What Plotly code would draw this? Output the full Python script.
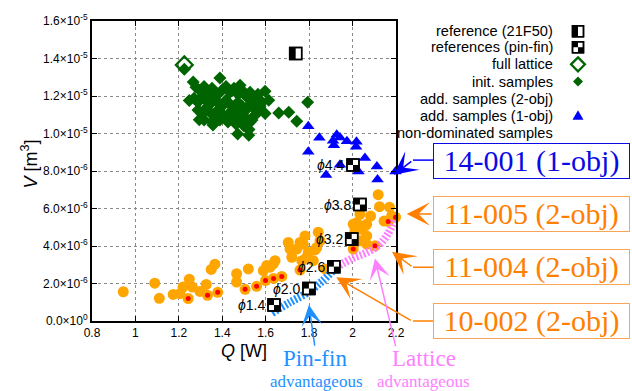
import numpy as np
import plotly.graph_objects as go

# ---------------- data (Q in W, V in 1e-6 m^3) ----------------
q_init = [1.225, 1.266, 1.389, 1.248, 1.294, 1.357, 1.471, 1.522, 1.523, 1.482,
          1.597, 1.614, 1.597, 1.660, 1.706, 1.743, 1.793,
          1.279, 1.297, 1.316, 1.334, 1.353, 1.371, 1.399, 1.417, 1.436, 1.454,
          1.472, 1.491, 1.509, 1.528, 1.546, 1.564, 1.583,
          1.270, 1.288, 1.307, 1.325, 1.343, 1.362, 1.380, 1.399, 1.417, 1.436,
          1.454, 1.472, 1.491, 1.509, 1.528, 1.546, 1.564, 1.574,
          1.288, 1.307, 1.325, 1.343, 1.362, 1.380, 1.399, 1.417, 1.436, 1.454,
          1.472, 1.491, 1.509, 1.528, 1.546,
          1.316, 1.353, 1.389, 1.426, 1.463, 1.500, 1.537, 1.482, 1.555, 1.380]
v_init = [13.43, 12.75, 12.96, 11.76, 10.74, 10.45, 9.98, 9.91, 10.22, 12.57,
          12.26, 11.77, 11.07, 11.10, 11.14, 10.65, 11.67,
          12.46, 12.30, 12.51, 12.20, 12.41, 12.09, 12.30, 12.51, 12.20, 12.41,
          12.09, 12.30, 11.99, 12.20, 11.88, 12.09, 11.67,
          11.88, 11.67, 11.99, 11.77, 11.56, 11.88, 11.67, 11.46, 11.77, 11.56,
          11.35, 11.67, 11.46, 11.25, 11.56, 11.35, 11.14, 11.46,
          11.25, 11.04, 11.35, 11.14, 10.93, 11.25, 11.04, 10.82, 11.14, 10.93,
          10.72, 11.04, 10.82, 10.61, 10.93,
          10.72, 10.61, 10.72, 10.61, 10.51, 10.40, 10.72, 11.25, 11.67, 12.09]

q_add2 = [0.944, 1.089, 1.110, 1.174, 1.205, 1.219, 1.248, 1.243, 1.262, 1.297,
          1.326, 1.332, 1.349, 1.366, 1.379, 1.466, 1.466, 1.505, 1.520, 1.558,
          1.589, 1.605, 1.635, 1.599, 1.636, 1.674, 1.643, 1.620, 1.704, 1.758,
          1.781, 1.743, 1.720, 1.766, 1.796, 1.835, 1.842, 1.850, 1.819, 1.873,
          1.758, 1.789, 1.712, 1.773, 1.827, 2.019, 2.042, 2.065, 2.034, 2.003,
          2.065, 2.103, 2.034, 2.083, 2.118, 2.124, 2.170, 2.145, 2.180, 2.164,
          2.198, 2.003, 2.057, 2.011, 2.065, 1.910]
v_add2 = [1.56, 2.02, 1.21, 1.42, 1.46, 1.81, 2.23, 1.20, 1.81, 1.58,
          1.95, 1.37, 2.75, 3.03, 1.53, 2.52, 2.08, 1.69, 2.78, 1.85,
          2.69, 2.96, 3.05, 2.16, 2.27, 2.38, 3.22, 2.87, 4.19, 4.19,
          4.54, 3.84, 3.40, 3.22, 3.66, 3.92, 4.74, 4.28, 3.22, 2.78,
          2.72, 3.40, 3.84, 4.10, 3.79, 5.24, 4.89, 5.16, 4.28, 3.84,
          4.10, 4.01, 5.69, 5.60, 6.74, 6.10, 6.07, 5.33, 5.60, 5.31,
          5.54, 5.16, 5.07, 4.80, 4.54, 2.90]

q_add1 = [1.796, 1.847, 1.927, 1.942, 1.910, 1.914, 1.974, 2.018, 2.016, 1.796,
          2.057, 2.112, 2.027, 2.115, 1.878, 1.942, 2.198]
v_add1 = [10.39, 9.77, 9.94, 9.79, 9.61, 9.37, 9.59, 9.56, 9.29, 9.03,
          8.69, 8.24, 7.97, 7.55, 7.79, 8.34, 7.97]

q_nondom = [1.243, 1.332, 1.379, 1.505, 1.558, 1.599, 1.636, 1.674, 1.758,
            2.003, 2.103, 2.164, 2.198]
v_nondom = [1.20, 1.37, 1.53, 1.69, 1.85, 2.16, 2.27, 2.38, 2.72,
            3.84, 4.01, 5.31, 5.54]

q_full_lattice = [1.225]
v_full_lattice = [13.66]

q_ref21 = [1.738]
v_ref21 = [14.27]

pin_labels = ["1.4", "2.0", "2.6", "3.2", "3.8", "4.4"]
q_pin = [1.638, 1.799, 1.914, 1.996, 2.034, 2.002]
v_pin = [0.85, 1.73, 2.90, 4.37, 6.21, 8.32]

# advantageous-region bands
q_band_pin = [1.629, 1.712, 1.795, 1.859, 1.910]
v_band_pin = [0.42, 1.00, 1.53, 2.11, 2.69]
q_band_lat = [1.924, 1.997, 2.062, 2.117, 2.163, 2.195]
v_band_lat = [2.85, 3.33, 3.64, 4.01, 4.65, 5.44]

x_ticks = [0.8, 1.0, 1.2, 1.4, 1.6, 1.8, 2.0, 2.2]
x_tick_text = ["0.8", "1", "1.2", "1.4", "1.6", "1.8", "2", "2.2"]
y_ticks = [0, 2e-6, 4e-6, 6e-6, 8e-6, 1.0e-5, 1.2e-5, 1.4e-5, 1.6e-5]
y_tick_text = ["0.0×10<sup>0</sup>", "2.0×10<sup>-6</sup>", "4.0×10<sup>-6</sup>",
               "6.0×10<sup>-6</sup>", "8.0×10<sup>-6</sup>", "1.0×10<sup>-5</sup>",
               "1.2×10<sup>-5</sup>", "1.4×10<sup>-5</sup>", "1.6×10<sup>-5</sup>"]

legend_labels = ["reference (21F50)", "references (pin-fin)", "full lattice",
                 "init. samples", "add. samples (2-obj)", "add. samples (1-obj)",
                 "non-dominated samples"]

E6 = 1e-6
GREEN = "#006400"
ORANGE = "#FFA500"
BLUE = "#0000FF"
RED = "#FF0000"
PIN_C = "#1E90FF"
LAT_C = "#FF80FF"
ANN_OR = "#FF7F00"
SANS = "Liberation Sans, Arial, sans-serif"
SERIF = "Liberation Serif, Times New Roman, serif"

# plot-area geometry (pixels)
W, H = 632, 391
L, R, T, B = 92, 396, 18, 321


def px(x):
    return (x - L) / (R - L)


def py(y):
    return (B - y) / (B - T)


def vv(a):
    return [v * E6 for v in a]


fig = go.Figure()

fig.add_trace(go.Scatter(x=q_init, y=vv(v_init), mode="markers", cliponaxis=False,
                         marker=dict(symbol="diamond", size=10, color=GREEN)))
fig.add_trace(go.Scatter(x=q_full_lattice, y=vv(v_full_lattice), mode="markers",
                         cliponaxis=False,
                         marker=dict(symbol="diamond-open", size=13, color=GREEN,
                                     line=dict(width=2.2, color=GREEN))))
fig.add_trace(go.Scatter(x=q_add1, y=vv(v_add1), mode="markers", cliponaxis=False,
                         marker=dict(symbol="triangle-up", size=11, color=BLUE)))
fig.add_trace(go.Scatter(x=q_add2, y=vv(v_add2), mode="markers", cliponaxis=False,
                         marker=dict(symbol="circle", size=11, color=ORANGE)))
fig.add_trace(go.Scatter(x=q_band_pin, y=vv(v_band_pin), mode="lines",
                         line=dict(color=PIN_C, width=8, dash="2px,1.8px", shape="spline")))
fig.add_trace(go.Scatter(x=q_band_lat, y=vv(v_band_lat), mode="lines",
                         line=dict(color=LAT_C, width=8, dash="2px,1.8px", shape="spline")))
fig.add_trace(go.Scatter(x=q_nondom, y=vv(v_nondom), mode="markers", cliponaxis=False,
                         marker=dict(symbol="circle", size=5, color=RED)))

shapes = []
annotations = []


def sq(xa, ya, xref, yref, x0, x1, y0, y1, fill, lw=0, lc="black"):
    shapes.append(dict(type="rect", xref=xref, yref=yref, xsizemode="pixel",
                       ysizemode="pixel", xanchor=xa, yanchor=ya,
                       x0=x0, x1=x1, y0=y0, y1=y1, fillcolor=fill,
                       line=dict(width=lw, color=lc), layer="above"))


def checker(xa, ya, xref, yref, s=6):
    sq(xa, ya, xref, yref, -s, s, -s, s, "white", 1.5)
    sq(xa, ya, xref, yref, -s, 0, 0, s, "black")
    sq(xa, ya, xref, yref, 0, s, -s, 0, "black")
    sq(xa, ya, xref, yref, -s, s, -s, s, "rgba(0,0,0,0)", 1.5)


def half(xa, ya, xref, yref, s=6):
    sq(xa, ya, xref, yref, -s, s, -s, s, "white", 1.5)
    sq(xa, ya, xref, yref, -s, 0, -s, s, "black")
    sq(xa, ya, xref, yref, -s, s, -s, s, "rgba(0,0,0,0)", 1.5)


def text_at(xp, yp, text, size, color, family=SANS, **kw):
    d = dict(x=px(xp), y=py(yp), xref="paper", yref="paper", text=text,
             showarrow=False, xanchor="center", yanchor="middle",
             font=dict(family=family, size=size, color=color))
    d.update(kw)
    annotations.append(d)


# reference designs on the data axes
half(q_ref21[0], v_ref21[0] * E6, "x", "y")
for lab, q, v in zip(pin_labels, q_pin, v_pin):
    checker(q, v * E6, "x", "y")
    annotations.append(dict(x=q, y=v * E6, xref="x", yref="y", text="<i>ϕ</i>" + lab,
                            showarrow=False, xanchor="right", yanchor="middle",
                            xshift=-7, font=dict(family=SANS, size=14, color="black")))

# legend (text on the left, key on the right)
leg_x_key = px(578)
leg_rows = [28.3, 44.5, 61.8, 79.2, 96.6, 113.6, 130.7]
for lab, ry in zip(legend_labels, leg_rows):
    text_at(555, ry, lab, 14.6, "black", xanchor="right")
half(leg_x_key, py(leg_rows[0]), "paper", "paper", s=5.5)
checker(leg_x_key, py(leg_rows[1]), "paper", "paper", s=5.5)


def path_key(ry, path, fill, lw=0, lc=None):
    shapes.append(dict(type="path", xref="paper", yref="paper", xsizemode="pixel",
                       ysizemode="pixel", xanchor=leg_x_key, yanchor=py(ry),
                       path=path, fillcolor=fill,
                       line=dict(width=lw, color=lc or fill), layer="above"))


path_key(leg_rows[2], "M0,7 L7,0 L0,-7 L-7,0 Z", "white", 2.2, GREEN)
path_key(leg_rows[3], "M0,5 L5,0 L0,-5 L-5,0 Z", GREEN)
path_key(leg_rows[4], "M-5.5,0 A5.5,5.5 0 1 1 5.5,0 A5.5,5.5 0 1 1 -5.5,0 Z", ORANGE)
path_key(leg_rows[5], "M0,5.5 L5.5,-4 L-5.5,-4 Z", BLUE)
path_key(leg_rows[6], "M-2.5,0 A2.5,2.5 0 1 1 2.5,0 A2.5,2.5 0 1 1 -2.5,0 Z", RED)

# labelled boxes on the right
box_common = dict(bgcolor="white", borderwidth=1, borderpad=1, width=193, height=32)
text_at(531.5, 159.2, "14-001 (1-obj)", 30, "#0A0AE6", family=SERIF,
        bordercolor="#0A0AE6", **box_common)
for txt, cy in [("11-005 (2-obj)", 213.3), ("11-004 (2-obj)", 266.5),
                ("10-002 (2-obj)", 321.0)]:
    text_at(531.5, cy, txt, 30, ANN_OR, family=SERIF, bordercolor="#F8A55A", **box_common)


def elbow(y_box, x_elbow, color):
    shapes.append(dict(type="line", xref="paper", yref="paper",
                       x0=px(433), x1=px(x_elbow), y0=py(y_box), y1=py(y_box),
                       line=dict(color=color, width=1.5), layer="above"))


def arrow(xt, yt, xref, yref, ax, ay, color, size=2.6):
    annotations.append(dict(x=xt, y=yt, xref=xref, yref=yref, ax=ax, ay=ay,
                            text="", showarrow=True, arrowhead=3, arrowsize=size,
                            arrowwidth=1.5, arrowcolor=color))


# 14-001 arrow
elbow(158.5, 413, BLUE)
arrow(2.19, 7.8 * E6, "x", "y", 413 - 394, 158.5 - 173, BLUE)
# 11-005 arrow
arrow(px(406.7), py(213), "paper", "paper", 433 - 406.7, 0, ANN_OR)
# 11-004 arrow
elbow(266.7, 413, ANN_OR)
arrow(px(392), py(251), "paper", "paper", 413 - 392, 266.7 - 251, ANN_OR)
# 10-002 arrow
elbow(321, 413, ANN_OR)
arrow(1.925, 2.33 * E6, "x", "y", 413 - 337, 321 - 277, ANN_OR)
# advantageous-region arrows
arrow(1.799, 0.85 * E6, "x", "y", 315 - 309, 347 - 305, PIN_C, size=2.3)
arrow(2.103, 3.33 * E6, "x", "y", 396 - 375, 347 - 258, LAT_C, size=2.3)

text_at(315, 359, "Pin-fin", 23, PIN_C, family=SERIF)
text_at(316, 382, "advantageous", 17, PIN_C, family=SERIF)
text_at(424, 359, "Lattice", 23, LAT_C, family=SERIF)
text_at(423, 382, "advantageous", 17, LAT_C, family=SERIF)
text_at(244, 351, "<i>Q</i> [W]", 18, "black")
text_at(30, 163, "<i>V</i> [m<sup>3</sup>]", 18, "black", textangle=-90)

axis_common = dict(showline=True, linewidth=2, linecolor="black", mirror="ticks",
                   ticks="inside", ticklen=5, tickcolor="black", showgrid=True,
                   gridcolor="#8a8a8a", gridwidth=1, griddash="dot", zeroline=False,
                   tickfont=dict(family=SANS, size=12, color="black"))

fig.update_layout(
    width=W, height=H,
    margin=dict(l=L, r=W - R, t=T, b=H - B, pad=0),
    paper_bgcolor="white", plot_bgcolor="white",
    showlegend=False,
    xaxis=dict(range=[0.8, 2.2], tickvals=x_ticks, ticktext=x_tick_text, **axis_common),
    yaxis=dict(range=[0, 1.6e-5], tickvals=y_ticks, ticktext=y_tick_text, **axis_common),
    shapes=shapes,
    annotations=annotations,
)

fig.write_html("out.html")
